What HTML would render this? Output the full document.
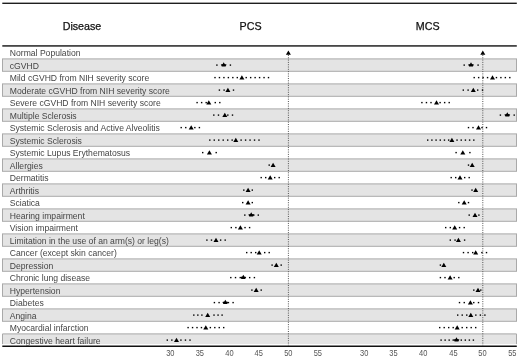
<!DOCTYPE html>
<html><head><meta charset="utf-8"><style>
html,body{margin:0;padding:0;background:#fff;}
body{width:520px;height:359px;overflow:hidden;font-family:"Liberation Sans",sans-serif;}
svg{display:block;will-change:transform;}
</style></head><body>
<svg width="520" height="359" viewBox="0 0 520 359">
<rect x="2.3" y="2.6" width="514.5" height="1.4" fill="#1e1e1e"/>
<g font-family="Liberation Sans" font-size="10.7" fill="#111" stroke="#111" stroke-width="0.25" text-anchor="middle">
<text x="82" y="29.5">Disease</text><text x="250.6" y="29.5">PCS</text><text x="427.7" y="29.5">MCS</text></g>
<rect x="2.3" y="45" width="514.5" height="1.8" fill="#474747"/>
<rect x="2.5" y="58.9" width="514" height="12.4" fill="#e4e4e4" stroke="#a9a9a9" stroke-width="1"/>
<rect x="2.5" y="83.9" width="514" height="12.4" fill="#e4e4e4" stroke="#a9a9a9" stroke-width="1"/>
<rect x="2.5" y="108.9" width="514" height="12.4" fill="#e4e4e4" stroke="#a9a9a9" stroke-width="1"/>
<rect x="2.5" y="133.9" width="514" height="12.4" fill="#e4e4e4" stroke="#a9a9a9" stroke-width="1"/>
<rect x="2.5" y="158.9" width="514" height="12.4" fill="#e4e4e4" stroke="#a9a9a9" stroke-width="1"/>
<rect x="2.5" y="183.9" width="514" height="12.4" fill="#e4e4e4" stroke="#a9a9a9" stroke-width="1"/>
<rect x="2.5" y="208.9" width="514" height="12.4" fill="#e4e4e4" stroke="#a9a9a9" stroke-width="1"/>
<rect x="2.5" y="233.9" width="514" height="12.4" fill="#e4e4e4" stroke="#a9a9a9" stroke-width="1"/>
<rect x="2.5" y="258.9" width="514" height="12.4" fill="#e4e4e4" stroke="#a9a9a9" stroke-width="1"/>
<rect x="2.5" y="283.9" width="514" height="12.4" fill="#e4e4e4" stroke="#a9a9a9" stroke-width="1"/>
<rect x="2.5" y="308.9" width="514" height="12.4" fill="#e4e4e4" stroke="#a9a9a9" stroke-width="1"/>
<rect x="2.5" y="333.9" width="514" height="10.20" fill="#e4e4e4"/>
<path d="M2.5,344.1 V333.9 H516.5 V344.1" fill="none" stroke="#a9a9a9" stroke-width="1"/>
<rect x="2.3" y="345.5" width="514.5" height="1.5" fill="#111"/>
<line x1="288.4" y1="55" x2="288.4" y2="345.5" stroke="#555" stroke-width="1" stroke-dasharray="1 1.3"/>
<polygon points="285.9,54.8 290.9,54.8 288.4,50.6" fill="#000"/>
<line x1="482.8" y1="55" x2="482.8" y2="345.5" stroke="#555" stroke-width="1" stroke-dasharray="1 1.3"/>
<polygon points="480.3,54.8 485.3,54.8 482.8,50.6" fill="#000"/>
<g font-family="Liberation Sans" font-size="8.6" fill="#454545">
<text x="9.8" y="56.20">Normal Population</text>
<text x="9.8" y="68.70">cGVHD</text>
<text x="9.8" y="81.20">Mild cGVHD from NIH severity score</text>
<text x="9.8" y="93.70">Moderate cGVHD from NIH severity score</text>
<text x="9.8" y="106.20">Severe cGVHD from NIH severity score</text>
<text x="9.8" y="118.70">Multiple Sclerosis</text>
<text x="9.8" y="131.20">Systemic Sclerosis and Active Alveolitis</text>
<text x="9.8" y="143.70">Systemic Sclerosis</text>
<text x="9.8" y="156.20">Systemic Lupus Erythematosus</text>
<text x="9.8" y="168.70">Allergies</text>
<text x="9.8" y="181.20">Dermatitis</text>
<text x="9.8" y="193.70">Arthritis</text>
<text x="9.8" y="206.20">Sciatica</text>
<text x="9.8" y="218.70">Hearing impairment</text>
<text x="9.8" y="231.20">Vision impairment</text>
<text x="9.8" y="243.70">Limitation in the use of an arm(s) or leg(s)</text>
<text x="9.8" y="256.20">Cancer (except skin cancer)</text>
<text x="9.8" y="268.70">Depression</text>
<text x="9.8" y="281.20">Chronic lung disease</text>
<text x="9.8" y="293.70">Hypertension</text>
<text x="9.8" y="306.20">Diabetes</text>
<text x="9.8" y="318.70">Angina</text>
<text x="9.8" y="331.20">Myocardial infarction</text>
<text x="9.8" y="343.70">Congestive heart failure</text>
</g>
<g fill="#000">
<rect x="216.20" y="64.40" width="1.4" height="1.4"/>
<rect x="229.70" y="64.40" width="1.4" height="1.4"/>
<polygon points="223.70,62.20 224.70,64.00 226.60,64.40 225.60,66.60 221.80,66.60 220.80,64.40 222.70,64.00"/>
<rect x="463.50" y="64.40" width="1.4" height="1.4"/>
<rect x="477.40" y="64.40" width="1.4" height="1.4"/>
<polygon points="471.00,62.20 472.00,64.00 473.90,64.40 472.90,66.60 469.10,66.60 468.10,64.40 470.00,64.00"/>
<rect x="214.30" y="76.90" width="1.4" height="1.4"/>
<rect x="218.76" y="76.90" width="1.4" height="1.4"/>
<rect x="223.22" y="76.90" width="1.4" height="1.4"/>
<rect x="227.68" y="76.90" width="1.4" height="1.4"/>
<rect x="232.13" y="76.90" width="1.4" height="1.4"/>
<rect x="236.59" y="76.90" width="1.4" height="1.4"/>
<rect x="245.51" y="76.90" width="1.4" height="1.4"/>
<rect x="249.97" y="76.90" width="1.4" height="1.4"/>
<rect x="254.43" y="76.90" width="1.4" height="1.4"/>
<rect x="258.88" y="76.90" width="1.4" height="1.4"/>
<rect x="263.34" y="76.90" width="1.4" height="1.4"/>
<rect x="267.80" y="76.90" width="1.4" height="1.4"/>
<polygon points="239.40,79.53 244.40,79.53 241.90,75.23"/>
<rect x="473.50" y="76.90" width="1.4" height="1.4"/>
<rect x="477.95" y="76.90" width="1.4" height="1.4"/>
<rect x="482.40" y="76.90" width="1.4" height="1.4"/>
<rect x="486.85" y="76.90" width="1.4" height="1.4"/>
<rect x="495.75" y="76.90" width="1.4" height="1.4"/>
<rect x="500.20" y="76.90" width="1.4" height="1.4"/>
<rect x="504.65" y="76.90" width="1.4" height="1.4"/>
<rect x="509.10" y="76.90" width="1.4" height="1.4"/>
<polygon points="490.00,79.53 495.00,79.53 492.50,75.23"/>
<rect x="218.70" y="89.40" width="1.4" height="1.4"/>
<rect x="223.40" y="89.40" width="1.4" height="1.4"/>
<rect x="232.80" y="89.40" width="1.4" height="1.4"/>
<polygon points="225.40,92.03 230.40,92.03 227.90,87.73"/>
<rect x="462.60" y="89.40" width="1.4" height="1.4"/>
<rect x="467.40" y="89.40" width="1.4" height="1.4"/>
<rect x="477.00" y="89.40" width="1.4" height="1.4"/>
<rect x="481.80" y="89.40" width="1.4" height="1.4"/>
<polygon points="470.80,92.03 475.80,92.03 473.30,87.73"/>
<rect x="196.40" y="101.90" width="1.4" height="1.4"/>
<rect x="200.94" y="101.90" width="1.4" height="1.4"/>
<rect x="205.48" y="101.90" width="1.4" height="1.4"/>
<rect x="214.56" y="101.90" width="1.4" height="1.4"/>
<rect x="219.10" y="101.90" width="1.4" height="1.4"/>
<polygon points="206.30,104.53 211.30,104.53 208.80,100.23"/>
<rect x="421.20" y="101.90" width="1.4" height="1.4"/>
<rect x="425.75" y="101.90" width="1.4" height="1.4"/>
<rect x="430.30" y="101.90" width="1.4" height="1.4"/>
<rect x="439.40" y="101.90" width="1.4" height="1.4"/>
<rect x="443.95" y="101.90" width="1.4" height="1.4"/>
<rect x="448.50" y="101.90" width="1.4" height="1.4"/>
<polygon points="434.00,104.53 439.00,104.53 436.50,100.23"/>
<rect x="213.10" y="114.40" width="1.4" height="1.4"/>
<rect x="217.78" y="114.40" width="1.4" height="1.4"/>
<rect x="227.12" y="114.40" width="1.4" height="1.4"/>
<rect x="231.80" y="114.40" width="1.4" height="1.4"/>
<polygon points="222.30,117.03 227.30,117.03 224.80,112.73"/>
<rect x="499.70" y="114.40" width="1.4" height="1.4"/>
<rect x="513.50" y="114.40" width="1.4" height="1.4"/>
<polygon points="507.30,112.20 508.30,114.00 510.20,114.40 509.20,116.60 505.40,116.60 504.40,114.40 506.30,114.00"/>
<rect x="180.50" y="126.90" width="1.4" height="1.4"/>
<rect x="185.05" y="126.90" width="1.4" height="1.4"/>
<rect x="194.15" y="126.90" width="1.4" height="1.4"/>
<rect x="198.70" y="126.90" width="1.4" height="1.4"/>
<polygon points="188.70,129.53 193.70,129.53 191.20,125.23"/>
<rect x="467.80" y="126.90" width="1.4" height="1.4"/>
<rect x="472.30" y="126.90" width="1.4" height="1.4"/>
<rect x="481.30" y="126.90" width="1.4" height="1.4"/>
<rect x="485.80" y="126.90" width="1.4" height="1.4"/>
<polygon points="476.00,129.53 481.00,129.53 478.50,125.23"/>
<rect x="209.10" y="139.40" width="1.4" height="1.4"/>
<rect x="213.57" y="139.40" width="1.4" height="1.4"/>
<rect x="218.05" y="139.40" width="1.4" height="1.4"/>
<rect x="222.52" y="139.40" width="1.4" height="1.4"/>
<rect x="226.99" y="139.40" width="1.4" height="1.4"/>
<rect x="231.46" y="139.40" width="1.4" height="1.4"/>
<rect x="240.41" y="139.40" width="1.4" height="1.4"/>
<rect x="244.88" y="139.40" width="1.4" height="1.4"/>
<rect x="249.35" y="139.40" width="1.4" height="1.4"/>
<rect x="253.83" y="139.40" width="1.4" height="1.4"/>
<rect x="258.30" y="139.40" width="1.4" height="1.4"/>
<polygon points="233.30,142.03 238.30,142.03 235.80,137.73"/>
<rect x="427.00" y="139.40" width="1.4" height="1.4"/>
<rect x="431.19" y="139.40" width="1.4" height="1.4"/>
<rect x="435.38" y="139.40" width="1.4" height="1.4"/>
<rect x="439.57" y="139.40" width="1.4" height="1.4"/>
<rect x="443.76" y="139.40" width="1.4" height="1.4"/>
<rect x="447.95" y="139.40" width="1.4" height="1.4"/>
<rect x="456.34" y="139.40" width="1.4" height="1.4"/>
<rect x="460.53" y="139.40" width="1.4" height="1.4"/>
<rect x="464.72" y="139.40" width="1.4" height="1.4"/>
<rect x="468.91" y="139.40" width="1.4" height="1.4"/>
<rect x="473.10" y="139.40" width="1.4" height="1.4"/>
<polygon points="449.40,142.03 454.40,142.03 451.90,137.73"/>
<rect x="202.00" y="151.90" width="1.4" height="1.4"/>
<rect x="215.50" y="151.90" width="1.4" height="1.4"/>
<polygon points="206.90,154.53 211.90,154.53 209.40,150.23"/>
<rect x="455.40" y="151.90" width="1.4" height="1.4"/>
<rect x="469.20" y="151.90" width="1.4" height="1.4"/>
<polygon points="460.30,154.53 465.30,154.53 462.80,150.23"/>
<rect x="268.50" y="164.40" width="1.4" height="1.4"/>
<polygon points="270.60,167.03 275.60,167.03 273.10,162.73"/>
<rect x="467.80" y="164.40" width="1.4" height="1.4"/>
<polygon points="469.70,167.03 474.70,167.03 472.20,162.73"/>
<rect x="260.50" y="176.90" width="1.4" height="1.4"/>
<rect x="265.00" y="176.90" width="1.4" height="1.4"/>
<rect x="274.00" y="176.90" width="1.4" height="1.4"/>
<rect x="278.50" y="176.90" width="1.4" height="1.4"/>
<polygon points="267.70,179.53 272.70,179.53 270.20,175.23"/>
<rect x="450.50" y="176.90" width="1.4" height="1.4"/>
<rect x="455.00" y="176.90" width="1.4" height="1.4"/>
<rect x="464.00" y="176.90" width="1.4" height="1.4"/>
<rect x="468.50" y="176.90" width="1.4" height="1.4"/>
<polygon points="457.50,179.53 462.50,179.53 460.00,175.23"/>
<rect x="243.10" y="189.40" width="1.4" height="1.4"/>
<rect x="251.60" y="189.40" width="1.4" height="1.4"/>
<polygon points="245.60,192.03 250.60,192.03 248.10,187.73"/>
<rect x="471.30" y="189.40" width="1.4" height="1.4"/>
<polygon points="473.20,192.03 478.20,192.03 475.70,187.73"/>
<rect x="242.00" y="201.90" width="1.4" height="1.4"/>
<rect x="251.60" y="201.90" width="1.4" height="1.4"/>
<polygon points="245.60,204.53 250.60,204.53 248.10,200.23"/>
<rect x="458.10" y="201.90" width="1.4" height="1.4"/>
<rect x="467.80" y="201.90" width="1.4" height="1.4"/>
<polygon points="461.70,204.53 466.70,204.53 464.20,200.23"/>
<rect x="244.10" y="214.40" width="1.4" height="1.4"/>
<rect x="253.10" y="214.40" width="1.4" height="1.4"/>
<rect x="257.60" y="214.40" width="1.4" height="1.4"/>
<polygon points="251.20,212.20 252.20,214.00 254.10,214.40 253.10,216.60 249.30,216.60 248.30,214.40 250.20,214.00"/>
<rect x="468.50" y="214.40" width="1.4" height="1.4"/>
<rect x="478.20" y="214.40" width="1.4" height="1.4"/>
<polygon points="472.50,217.03 477.50,217.03 475.00,212.73"/>
<rect x="230.60" y="226.90" width="1.4" height="1.4"/>
<rect x="235.18" y="226.90" width="1.4" height="1.4"/>
<rect x="244.33" y="226.90" width="1.4" height="1.4"/>
<rect x="248.90" y="226.90" width="1.4" height="1.4"/>
<polygon points="237.90,229.53 242.90,229.53 240.40,225.23"/>
<rect x="445.00" y="226.90" width="1.4" height="1.4"/>
<rect x="449.62" y="226.90" width="1.4" height="1.4"/>
<rect x="458.88" y="226.90" width="1.4" height="1.4"/>
<rect x="463.50" y="226.90" width="1.4" height="1.4"/>
<polygon points="452.20,229.53 457.20,229.53 454.70,225.23"/>
<rect x="206.20" y="239.40" width="1.4" height="1.4"/>
<rect x="210.78" y="239.40" width="1.4" height="1.4"/>
<rect x="219.93" y="239.40" width="1.4" height="1.4"/>
<rect x="224.50" y="239.40" width="1.4" height="1.4"/>
<polygon points="213.50,242.03 218.50,242.03 216.00,237.73"/>
<rect x="449.60" y="239.40" width="1.4" height="1.4"/>
<rect x="454.37" y="239.40" width="1.4" height="1.4"/>
<rect x="463.90" y="239.40" width="1.4" height="1.4"/>
<polygon points="455.90,242.03 460.90,242.03 458.40,237.73"/>
<rect x="246.00" y="251.90" width="1.4" height="1.4"/>
<rect x="250.50" y="251.90" width="1.4" height="1.4"/>
<rect x="255.00" y="251.90" width="1.4" height="1.4"/>
<rect x="264.00" y="251.90" width="1.4" height="1.4"/>
<rect x="268.50" y="251.90" width="1.4" height="1.4"/>
<polygon points="256.70,254.53 261.70,254.53 259.20,250.23"/>
<rect x="462.80" y="251.90" width="1.4" height="1.4"/>
<rect x="467.40" y="251.90" width="1.4" height="1.4"/>
<rect x="472.00" y="251.90" width="1.4" height="1.4"/>
<rect x="481.20" y="251.90" width="1.4" height="1.4"/>
<rect x="485.80" y="251.90" width="1.4" height="1.4"/>
<polygon points="473.20,254.53 478.20,254.53 475.70,250.23"/>
<rect x="271.40" y="264.40" width="1.4" height="1.4"/>
<rect x="280.50" y="264.40" width="1.4" height="1.4"/>
<polygon points="273.80,267.04 278.80,267.04 276.30,262.74"/>
<rect x="439.70" y="264.40" width="1.4" height="1.4"/>
<polygon points="441.30,267.04 446.30,267.04 443.80,262.74"/>
<rect x="230.10" y="276.90" width="1.4" height="1.4"/>
<rect x="234.82" y="276.90" width="1.4" height="1.4"/>
<rect x="239.54" y="276.90" width="1.4" height="1.4"/>
<rect x="248.98" y="276.90" width="1.4" height="1.4"/>
<rect x="253.70" y="276.90" width="1.4" height="1.4"/>
<polygon points="243.30,274.70 244.30,276.50 246.20,276.90 245.20,279.10 241.40,279.10 240.40,276.90 242.30,276.50"/>
<rect x="439.70" y="276.90" width="1.4" height="1.4"/>
<rect x="444.30" y="276.90" width="1.4" height="1.4"/>
<rect x="453.50" y="276.90" width="1.4" height="1.4"/>
<rect x="458.10" y="276.90" width="1.4" height="1.4"/>
<polygon points="447.60,279.54 452.60,279.54 450.10,275.24"/>
<rect x="251.20" y="289.40" width="1.4" height="1.4"/>
<rect x="260.50" y="289.40" width="1.4" height="1.4"/>
<polygon points="253.70,292.04 258.70,292.04 256.20,287.74"/>
<rect x="473.10" y="289.40" width="1.4" height="1.4"/>
<rect x="480.10" y="289.40" width="1.4" height="1.4"/>
<polygon points="475.50,292.04 480.50,292.04 478.00,287.74"/>
<rect x="213.70" y="301.90" width="1.4" height="1.4"/>
<rect x="218.38" y="301.90" width="1.4" height="1.4"/>
<rect x="227.73" y="301.90" width="1.4" height="1.4"/>
<rect x="232.40" y="301.90" width="1.4" height="1.4"/>
<polygon points="225.30,299.70 226.30,301.50 228.20,301.90 227.20,304.10 223.40,304.10 222.40,301.90 224.30,301.50"/>
<rect x="458.80" y="301.90" width="1.4" height="1.4"/>
<rect x="463.55" y="301.90" width="1.4" height="1.4"/>
<rect x="473.05" y="301.90" width="1.4" height="1.4"/>
<rect x="477.80" y="301.90" width="1.4" height="1.4"/>
<polygon points="467.90,304.54 472.90,304.54 470.40,300.24"/>
<rect x="193.10" y="314.40" width="1.4" height="1.4"/>
<rect x="197.14" y="314.40" width="1.4" height="1.4"/>
<rect x="201.19" y="314.40" width="1.4" height="1.4"/>
<rect x="213.31" y="314.40" width="1.4" height="1.4"/>
<rect x="217.36" y="314.40" width="1.4" height="1.4"/>
<rect x="221.40" y="314.40" width="1.4" height="1.4"/>
<polygon points="205.20,317.04 210.20,317.04 207.70,312.74"/>
<rect x="457.00" y="314.40" width="1.4" height="1.4"/>
<rect x="461.53" y="314.40" width="1.4" height="1.4"/>
<rect x="466.07" y="314.40" width="1.4" height="1.4"/>
<rect x="475.13" y="314.40" width="1.4" height="1.4"/>
<rect x="479.67" y="314.40" width="1.4" height="1.4"/>
<rect x="484.20" y="314.40" width="1.4" height="1.4"/>
<polygon points="468.30,317.04 473.30,317.04 470.80,312.74"/>
<rect x="187.40" y="326.90" width="1.4" height="1.4"/>
<rect x="191.85" y="326.90" width="1.4" height="1.4"/>
<rect x="196.30" y="326.90" width="1.4" height="1.4"/>
<rect x="200.75" y="326.90" width="1.4" height="1.4"/>
<rect x="209.65" y="326.90" width="1.4" height="1.4"/>
<rect x="214.10" y="326.90" width="1.4" height="1.4"/>
<rect x="218.55" y="326.90" width="1.4" height="1.4"/>
<rect x="223.00" y="326.90" width="1.4" height="1.4"/>
<polygon points="203.30,329.54 208.30,329.54 205.80,325.24"/>
<rect x="439.00" y="326.90" width="1.4" height="1.4"/>
<rect x="443.50" y="326.90" width="1.4" height="1.4"/>
<rect x="448.00" y="326.90" width="1.4" height="1.4"/>
<rect x="452.50" y="326.90" width="1.4" height="1.4"/>
<rect x="461.50" y="326.90" width="1.4" height="1.4"/>
<rect x="466.00" y="326.90" width="1.4" height="1.4"/>
<rect x="470.50" y="326.90" width="1.4" height="1.4"/>
<rect x="475.00" y="326.90" width="1.4" height="1.4"/>
<polygon points="454.70,329.54 459.70,329.54 457.20,325.24"/>
<rect x="166.60" y="339.40" width="1.4" height="1.4"/>
<rect x="171.14" y="339.40" width="1.4" height="1.4"/>
<rect x="180.22" y="339.40" width="1.4" height="1.4"/>
<rect x="184.76" y="339.40" width="1.4" height="1.4"/>
<rect x="189.30" y="339.40" width="1.4" height="1.4"/>
<polygon points="174.00,342.04 179.00,342.04 176.50,337.74"/>
<rect x="440.40" y="339.40" width="1.4" height="1.4"/>
<rect x="444.44" y="339.40" width="1.4" height="1.4"/>
<rect x="448.48" y="339.40" width="1.4" height="1.4"/>
<rect x="452.51" y="339.40" width="1.4" height="1.4"/>
<rect x="460.59" y="339.40" width="1.4" height="1.4"/>
<rect x="464.62" y="339.40" width="1.4" height="1.4"/>
<rect x="468.66" y="339.40" width="1.4" height="1.4"/>
<rect x="472.70" y="339.40" width="1.4" height="1.4"/>
<polygon points="456.50,337.20 457.50,339.00 459.40,339.40 458.40,341.60 454.60,341.60 453.60,339.40 455.50,339.00"/>
</g>
<g font-family="Liberation Sans" font-size="8.5" fill="#555" text-anchor="middle">
<text transform="translate(170.3,355.8) scale(0.88,1)">30</text>
<text transform="translate(199.8,355.8) scale(0.88,1)">35</text>
<text transform="translate(229.4,355.8) scale(0.88,1)">40</text>
<text transform="translate(258.75,355.8) scale(0.88,1)">45</text>
<text transform="translate(288.3,355.8) scale(0.88,1)">50</text>
<text transform="translate(317.8,355.8) scale(0.88,1)">55</text>
<text transform="translate(364.2,355.8) scale(0.88,1)">30</text>
<text transform="translate(393.5,355.8) scale(0.88,1)">35</text>
<text transform="translate(423.2,355.8) scale(0.88,1)">40</text>
<text transform="translate(453.4,355.8) scale(0.88,1)">45</text>
<text transform="translate(482.5,355.8) scale(0.88,1)">50</text>
<text transform="translate(512.3,355.8) scale(0.88,1)">55</text>
</g>
</svg>
</body></html>
